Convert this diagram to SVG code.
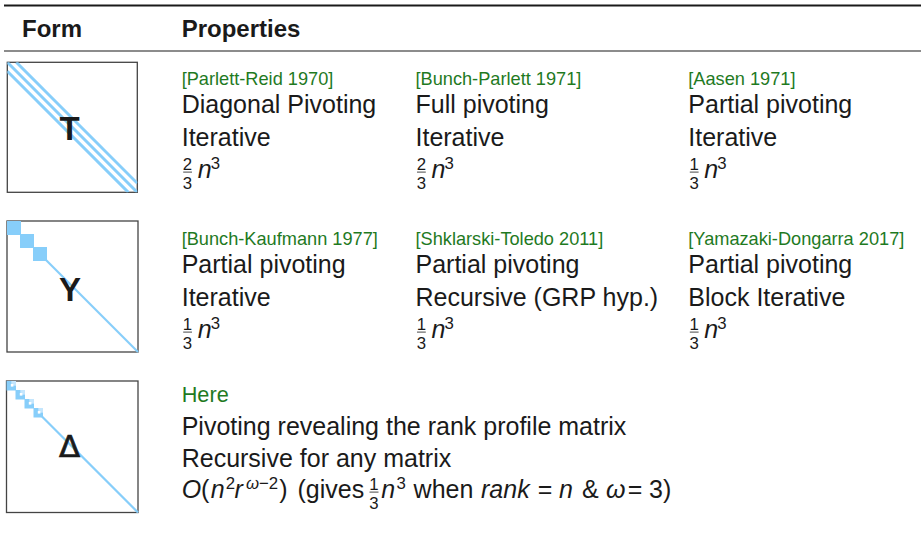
<svg xmlns="http://www.w3.org/2000/svg" xmlns:xlink="http://www.w3.org/1999/xlink" width="921" height="544" viewBox="0 0 921 544">
<style>
text{font-family:"Liberation Sans",Arial,sans-serif;fill:#1a1a1a}
.hd{font-size:24px;font-weight:bold}
.cite{font-size:18.2px;fill:#1f7a1f}
.here{font-size:21.7px;fill:#1f7a1f}
.t{font-size:25px}
.it{font-style:italic}
.sm{font-size:16.8px}
.lbl{font-size:33px;font-weight:bold;text-anchor:middle}
.box{fill:#fff;stroke:#444;stroke-width:1.3}
.blue{stroke:#87CEFA;fill:none}
.blk{fill:#87CEFA}
.bar{stroke:#1a1a1a;stroke-width:0.8}
.rule{stroke:#1a1a1a}
</style>
<defs>
<clipPath id="c1"><rect x="7.3" y="62.3" width="130" height="130"/></clipPath>
<g id="f23">
<text class="sm" x="5.8" y="-8.8" text-anchor="middle">2</text>
<line class="bar" x1="1.5" y1="-6.2" x2="10.3" y2="-6.2"/>
<text class="sm" x="5.8" y="10.2" text-anchor="middle">3</text>
<text class="t it" x="16" y="0">n</text>
<text class="sm" x="29" y="-9.3">3</text>
</g>
<g id="f13">
<text class="sm" x="5.8" y="-8.8" text-anchor="middle">1</text>
<line class="bar" x1="1.5" y1="-6.2" x2="10.3" y2="-6.2"/>
<text class="sm" x="5.8" y="10.2" text-anchor="middle">3</text>
<text class="t it" x="16" y="0">n</text>
<text class="sm" x="29" y="-9.3">3</text>
</g>
<g id="dblk">
<rect class="blk" x="0" y="0" width="9.5" height="9.5"/>
<rect x="4.8" y="0" width="4.7" height="4.7" fill="#c4e6fd"/>
<rect x="4.3" y="3" width="2.6" height="2.6" fill="#fff"/>
</g>
</defs>

<g id="header">
<line class="rule" x1="4" y1="5.5" x2="921" y2="5.5" stroke-width="2"/>
<text class="hd" x="22" y="37">Form</text>
<text class="hd" x="181.7" y="37">Properties</text>
<line class="rule" x1="4" y1="51" x2="921" y2="51" stroke-width="1.2"/>
</g>

<g id="form-T">
<rect class="box" x="7.3" y="62.3" width="130" height="130"/>
<g clip-path="url(#c1)" class="blue" stroke-width="3">
<line x1="7.3" y1="62.3" x2="137.3" y2="192.3"/>
<line x1="16.3" y1="62.3" x2="137.3" y2="183.3"/>
<line x1="7.3" y1="71.3" x2="128.3" y2="192.3"/>
</g>
<text class="lbl" x="69.5" y="140">T</text>
</g>

<g id="form-Y">
<rect class="box" x="7" y="221" width="131" height="131"/>
<rect class="blk" x="7" y="221" width="14" height="14"/>
<rect class="blk" x="20" y="234" width="14" height="14"/>
<rect class="blk" x="33" y="247" width="14" height="14"/>
<line class="blue" x1="46" y1="260" x2="138" y2="352" stroke-width="2.2"/>
<text class="lbl" x="70" y="300.5">Y</text>
</g>

<g id="form-Delta">
<rect class="box" x="6.5" y="381" width="131.5" height="131.5"/>
<use xlink:href="#dblk" x="6.5" y="381"/>
<use xlink:href="#dblk" x="15.5" y="390"/>
<use xlink:href="#dblk" x="24.5" y="399"/>
<use xlink:href="#dblk" x="33.5" y="408"/>
<line class="blue" x1="42" y1="416.5" x2="138" y2="512.5" stroke-width="2.2"/>
<text x="69.5" y="456.5" font-size="31" stroke="#1a1a1a" stroke-width="0.7" style="font-family:'DejaVu Sans',sans-serif" text-anchor="middle">Δ</text>
</g>

<g id="parlett-reid">
<text class="cite" x="181.7" y="85">[Parlett-Reid 1970]</text>
<text class="t" x="181.7" y="113.3">Diagonal Pivoting</text>
<text class="t" x="181.7" y="146">Iterative</text>
<use xlink:href="#f23" x="181.7" y="178.3"/>
</g>
<g id="bunch-parlett">
<text class="cite" x="415.5" y="85">[Bunch-Parlett 1971]</text>
<text class="t" x="415.5" y="113.3">Full pivoting</text>
<text class="t" x="415.5" y="146">Iterative</text>
<use xlink:href="#f23" x="415.5" y="178.3"/>
</g>
<g id="aasen">
<text class="cite" x="688.3" y="85">[Aasen 1971]</text>
<text class="t" x="688.3" y="113.3">Partial pivoting</text>
<text class="t" x="688.3" y="146">Iterative</text>
<use xlink:href="#f13" x="688.3" y="178.3"/>
</g>

<g id="bunch-kaufmann">
<text class="cite" x="181.7" y="245">[Bunch-Kaufmann 1977]</text>
<text class="t" x="181.7" y="273.3">Partial pivoting</text>
<text class="t" x="181.7" y="306">Iterative</text>
<use xlink:href="#f13" x="181.7" y="338.3"/>
</g>
<g id="shklarski-toledo">
<text class="cite" x="415.5" y="245">[Shklarski-Toledo 2011]</text>
<text class="t" x="415.5" y="273.3">Partial pivoting</text>
<text class="t" x="415.5" y="306">Recursive (GRP hyp.)</text>
<use xlink:href="#f13" x="415.5" y="338.3"/>
</g>
<g id="yamazaki-dongarra">
<text class="cite" x="688.3" y="245">[Yamazaki-Dongarra 2017]</text>
<text class="t" x="688.3" y="273.3">Partial pivoting</text>
<text class="t" x="688.3" y="306">Block Iterative</text>
<use xlink:href="#f13" x="688.3" y="338.3"/>
</g>

<g id="here">
<text class="here" x="181.7" y="402">Here</text>
<text class="t" x="181.7" y="435">Pivoting revealing the rank profile matrix</text>
<text class="t" x="181.7" y="466.7">Recursive for any matrix</text>
<text class="t it" x="181.7" y="498.3">O</text>
<text class="t" x="200.9" y="498.3">(</text>
<text class="t it" x="210.7" y="498.3">n</text>
<text class="sm" x="225.8" y="489">2</text>
<text class="t it" x="234.6" y="498.3">r</text>
<text class="sm" x="245.9" y="489"><tspan font-style="italic">ω</tspan>−2</text>
<text class="t" x="279.3" y="498.3">)</text>
<text class="t" x="297.5" y="498.3">(gives</text>
<text class="sm" x="374" y="489.5" text-anchor="middle">1</text>
<line class="bar" x1="369.5" y1="492.1" x2="378.5" y2="492.1"/>
<text class="sm" x="374" y="508.5" text-anchor="middle">3</text>
<text class="t it" x="381.3" y="498.3">n</text>
<text class="sm" x="396.4" y="489">3</text>
<text class="t" x="413.6" y="498.3">when</text>
<text class="t it" x="481" y="498.3">rank</text>
<text class="t" x="545" y="498.3" text-anchor="middle">=</text>
<text class="t it" x="559" y="498.3">n</text>
<text class="t" x="582" y="498.3">&amp;</text>
<text class="t it" x="606" y="498.3">ω</text>
<text class="t" x="635" y="498.3" text-anchor="middle">=</text>
<text class="t" x="649" y="498.3">3)</text>
</g>
</svg>
